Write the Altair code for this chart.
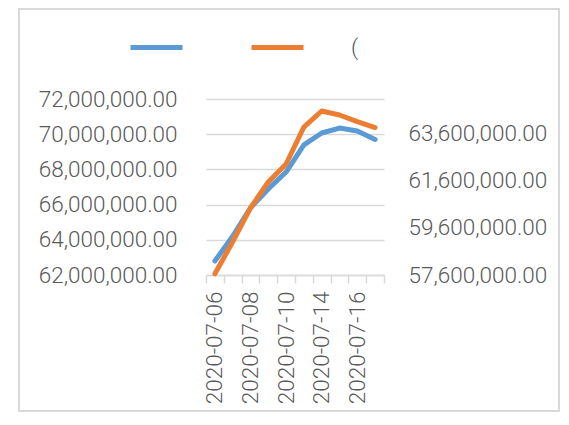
import altair as alt
import pandas as pd

dates = ["2020-07-06", "2020-07-07", "2020-07-08", "2020-07-09", "2020-07-10",
         "2020-07-13", "2020-07-14", "2020-07-15", "2020-07-16", "2020-07-17"]
series_left = [62800000, 64200000, 65810000, 66890000, 67850000,
               69390000, 70070000, 70350000, 70180000, 69700000]
series_right = [57650000, 59010000, 60450000, 61550000, 62310000,
                63880000, 64560000, 64390000, 64110000, 63860000]
series_keys = ["s1", "s2"]
series_labels = ["", "("]
left_ticks = [62000000, 64000000, 66000000, 68000000, 70000000, 72000000]
right_ticks = [57600000, 59600000, 61600000, 63600000]
shown_dates = ["2020-07-06", "2020-07-08", "2020-07-10", "2020-07-14", "2020-07-16"]

TXT = "#595959"
GRID = "#D9D9D9"
FONT = "Roboto"
FS = 22.5

df_left = pd.DataFrame({"date": dates, "value": series_left, "series": series_keys[0]})
df_right = pd.DataFrame({"date": dates, "value": series_right, "series": series_keys[1]})

label_map = "{" + ",".join(f"'{k}':'{v}'" for k, v in zip(series_keys, series_labels)) + "}"
shown_expr = "indexof([" + ",".join(f"'{d}'" for d in shown_dates) + "], datum.value) >= 0 ? datum.value : ''"

color = alt.Color(
    "series:N",
    scale=alt.Scale(domain=series_keys, range=["#5B9BD5", "#ED7D31"]),
    legend=alt.Legend(
        title=None, orient="none", legendX=-78, legendY=-80, direction="horizontal",
        symbolType="stroke", symbolSize=2704, symbolStrokeWidth=5,
        labelExpr=f"{label_map}[datum.label]", labelFont=FONT, labelFontSize=FS,
        labelFontWeight=300, labelColor=TXT, labelOffset=45, columnPadding=11,
        padding=0,
    ),
)

x_enc = alt.X(
    "date:O", sort=dates, bandPosition=0.5,
    scale=alt.Scale(type="band", paddingInner=0, paddingOuter=0),
    axis=alt.Axis(
        title=None, labelAngle=270, labelExpr=shown_expr, tickBand="extent",
        domainColor=GRID, domainWidth=1.5, tickColor=GRID, tickWidth=1.5, tickSize=8,
        labelPadding=8, labelFont=FONT, labelFontSize=FS, labelFontWeight=300,
        labelColor=TXT, grid=False, labelAlign="right", labelBaseline="middle",
    ),
)

left = alt.Chart(df_left).mark_line(strokeWidth=5, strokeCap="round", strokeJoin="round").encode(
    x=x_enc,
    y=alt.Y("value:Q", scale=alt.Scale(domain=[62000000, 72000000], nice=False, zero=False),
            axis=alt.Axis(title=None, orient="left", values=left_ticks, format=",.2f",
                          grid=True, gridColor=GRID, gridWidth=1.3, domain=False, ticks=False,
                          labelPadding=29, labelFont=FONT, labelFontSize=FS,
                          labelFontWeight=300, labelColor=TXT)),
    color=color,
)

right = alt.Chart(df_right).mark_line(strokeWidth=5, strokeCap="round", strokeJoin="round").encode(
    x=x_enc,
    y=alt.Y("value:Q", scale=alt.Scale(domain=[57600000, 65070000], nice=False, zero=False),
            axis=alt.Axis(title=None, orient="right", values=right_ticks, format=",.2f",
                          grid=False, domain=False, ticks=False,
                          labelPadding=24, labelFont=FONT, labelFontSize=FS,
                          labelFontWeight=300, labelColor=TXT)),
    color=color,
)

frame = alt.Chart(alt.Data(values=[{}])).mark_rect(
    fill=None, stroke=GRID, strokeWidth=2
).encode(x=alt.value(-187), x2=alt.value(353), y=alt.value(-90), y2=alt.value(312))

chart = alt.layer(frame, left, right).resolve_scale(y="independent").properties(
    width=178, height=176,
    autosize=alt.AutoSizeParams(type="none"),
    padding={"left": 198, "top": 91, "right": 177, "bottom": 137},
).configure_view(stroke=None)

chart.save("out.html", embed_options={"renderer": "svg", "actions": False})
